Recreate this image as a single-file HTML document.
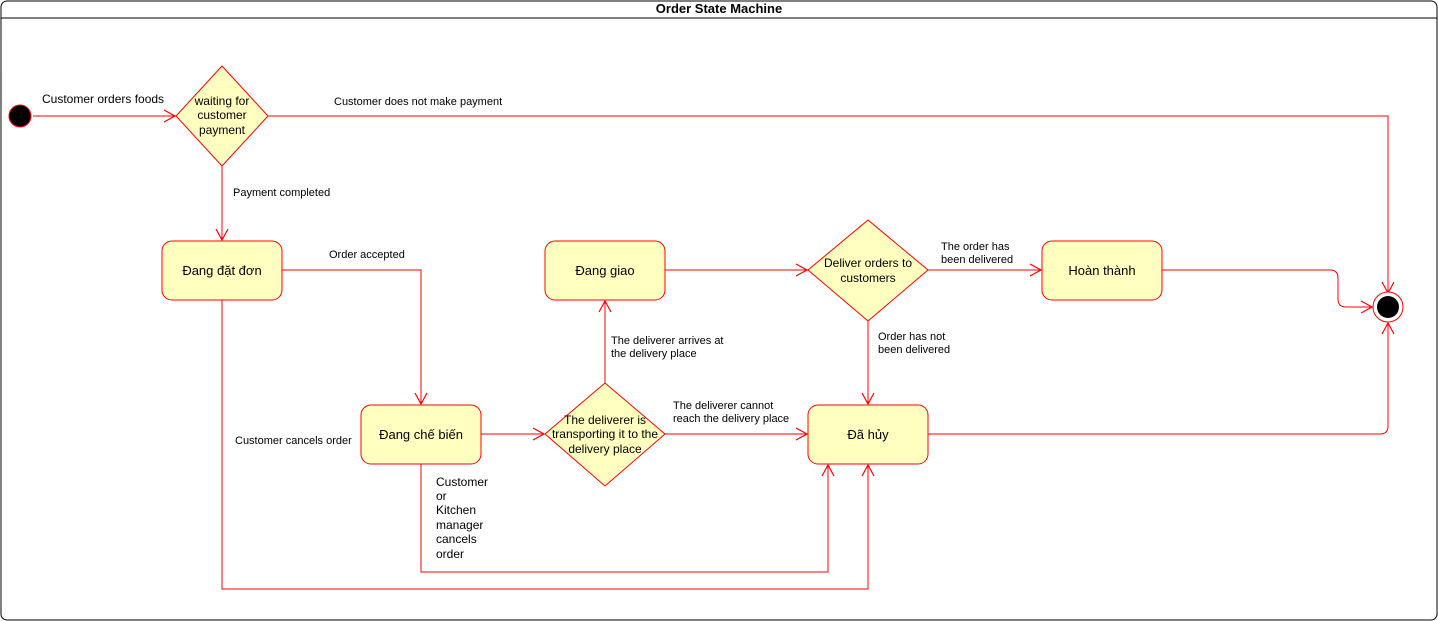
<!DOCTYPE html>
<html><head><meta charset="utf-8"><style>
body{margin:0;background:#fff}
svg{display:block;font-family:"Liberation Sans",sans-serif}
</style></head><body>
<svg width="1438" height="621" viewBox="0 0 1438 621">
<defs>
<marker id="a" markerWidth="14" markerHeight="14" refX="12" refY="7" orient="auto" markerUnits="userSpaceOnUse">
<path d="M1,1 L12,7 L1,13" fill="none" stroke="#ff0000" stroke-width="1.2"/>
</marker>
</defs>
<rect x="1" y="1" width="1436" height="619" rx="6" fill="#fff" stroke="#000" stroke-width="1"/>
<line x1="1" y1="18" x2="1437" y2="18" stroke="#000"/>
<text x="719" y="13" font-size="13" font-weight="bold" text-anchor="middle">Order State Machine</text>

<g fill="none" stroke="#ff0000" stroke-width="1">
<line x1="33" y1="116" x2="175" y2="116" marker-end="url(#a)"/>
<path d="M268,116 H1388 V293" marker-end="url(#a)"/>
<line x1="222" y1="166" x2="222" y2="240" marker-end="url(#a)"/>
<path d="M282,270 H421 V404" marker-end="url(#a)"/>
<line x1="481" y1="434" x2="544" y2="434" marker-end="url(#a)"/>
<line x1="605" y1="383" x2="605" y2="301" marker-end="url(#a)"/>
<line x1="665" y1="270" x2="807" y2="270" marker-end="url(#a)"/>
<line x1="928" y1="270" x2="1041" y2="270" marker-end="url(#a)"/>
<path d="M1162,270 H1330 Q1338,270 1338,278 V299 Q1338,307 1346,307 H1372" marker-end="url(#a)"/>
<line x1="868" y1="321" x2="868" y2="404" marker-end="url(#a)"/>
<line x1="665" y1="434" x2="807" y2="434" marker-end="url(#a)"/>
<path d="M928,434 H1380 Q1388,434 1388,426 V323" marker-end="url(#a)"/>
<path d="M222,300 V589 H868 V465" marker-end="url(#a)"/>
<path d="M421,464 V572 H828 V465" marker-end="url(#a)"/>
</g>

<circle cx="20" cy="116" r="11" fill="#000" stroke="#ff0000"/>
<circle cx="1388" cy="307" r="15" fill="#fff" stroke="#ff0000"/>
<circle cx="1388" cy="307" r="11" fill="#000"/>

<g fill="#ffffc0" stroke="#ff0000" stroke-width="1">
<polygon points="222,66 268,116 222,166 176,116"/>
<polygon points="605,383 665,434 605,486 545,434"/>
<polygon points="868,220 928,270 868,321 808,270"/>
<rect x="162" y="241" width="120" height="59" rx="10"/>
<rect x="361" y="405" width="120" height="59" rx="10"/>
<rect x="545" y="241" width="120" height="59" rx="10"/>
<rect x="1042" y="241" width="120" height="59" rx="10"/>
<rect x="808" y="405" width="120" height="59" rx="10"/>
</g>

<g font-size="12" fill="#000" text-anchor="middle">
<text x="222" y="105">waiting for</text>
<text x="222" y="119">customer</text>
<text x="222" y="134">payment</text>
<text x="222" y="275" font-size="13">Đang đặt đơn</text>
<text x="421" y="439" font-size="13">Đang chế biến</text>
<text x="605" y="275" font-size="13">Đang giao</text>
<text x="1102" y="275" font-size="13">Hoàn thành</text>
<text x="868" y="439" font-size="13">Đã hủy</text>
<text x="605" y="424">The deliverer is</text>
<text x="605" y="438">transporting it to the</text>
<text x="605" y="453">delivery place</text>
<text x="868" y="267">Deliver orders to</text>
<text x="868" y="282">customers</text>
</g>

<g font-size="11" fill="#000">
<text x="42" y="103" font-size="12">Customer orders foods</text>
<text x="334" y="105">Customer does not make payment</text>
<text x="233" y="196">Payment completed</text>
<text x="329" y="258">Order accepted</text>
<text x="235" y="444">Customer cancels order</text>
<text x="611" y="344">The deliverer arrives at</text>
<text x="611" y="357">the delivery place</text>
<text x="673" y="409">The deliverer cannot</text>
<text x="673" y="422">reach the delivery place</text>
<text x="941" y="250">The order has</text>
<text x="941" y="263">been delivered</text>
<text x="878" y="340">Order has not</text>
<text x="878" y="353">been delivered</text>
<text x="436" y="486" font-size="12">Customer</text>
<text x="436" y="500" font-size="12">or</text>
<text x="436" y="514" font-size="12">Kitchen</text>
<text x="436" y="529" font-size="12">manager</text>
<text x="436" y="543" font-size="12">cancels</text>
<text x="436" y="558" font-size="12">order</text>
</g>
</svg>
</body></html>
